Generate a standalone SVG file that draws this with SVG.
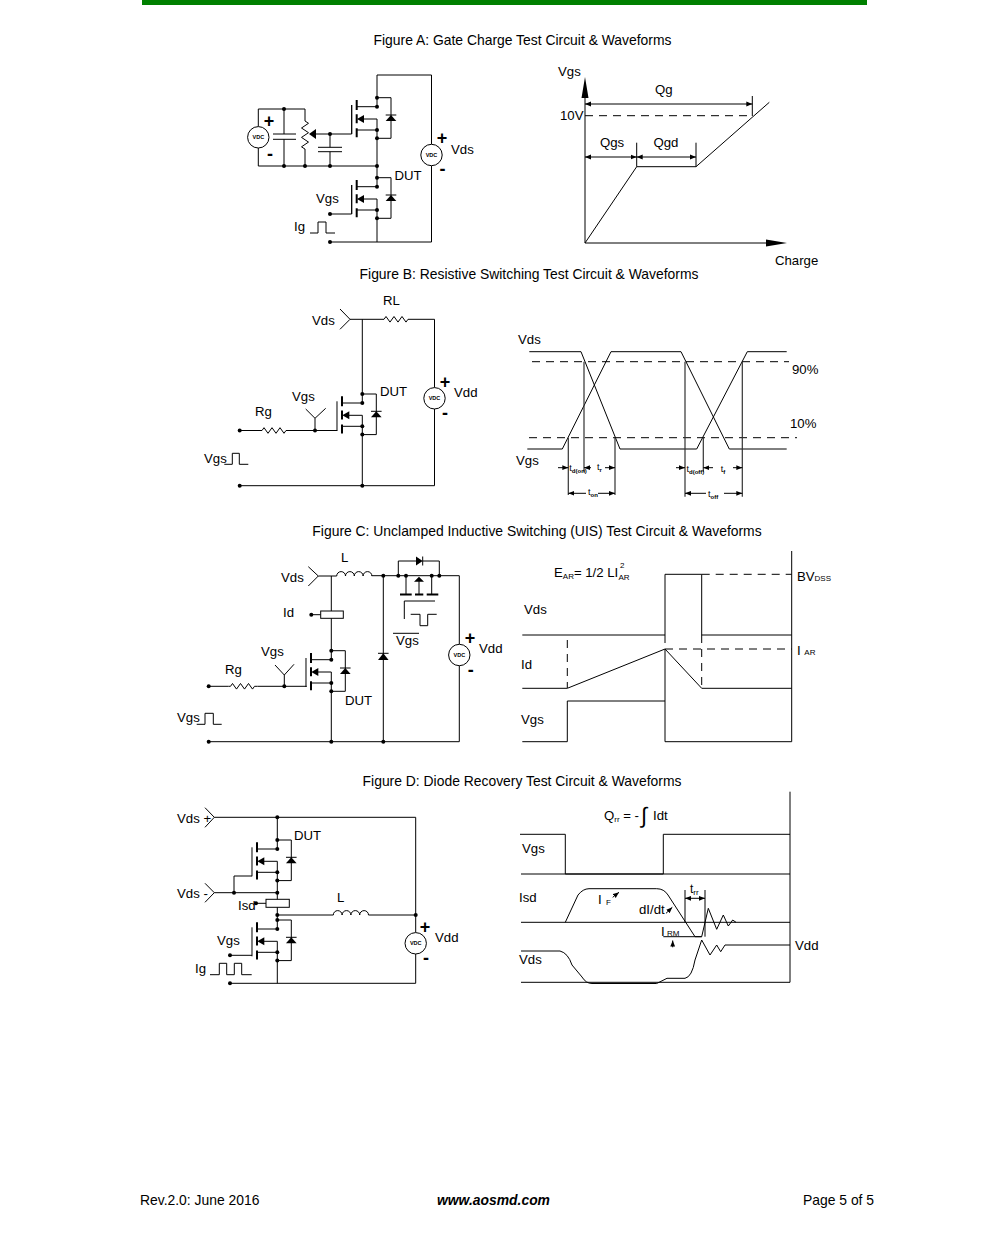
<svg xmlns="http://www.w3.org/2000/svg" xmlns:xlink="http://www.w3.org/1999/xlink" width="991" height="1237" viewBox="0 0 991 1237">
<style>
text{font-family:"Liberation Sans",Arial,sans-serif;font-size:13.2px;fill:#000}
text.b{font-size:13.9px}
.w{fill:none;stroke:#000;stroke-width:1}
.d{fill:none;stroke:#000;stroke-width:1;stroke-dasharray:8 6}
.g{fill:none;stroke:#333;stroke-width:1.2}
.a{fill:none;stroke:#000;stroke-width:1;marker-end:url(#ah)}
.f{fill:#000;stroke:none}
text.v{font-size:5.5px;font-weight:bold;text-anchor:middle}
text.pm{font-size:18px;font-weight:bold;text-anchor:middle}
text.s,tspan.s{font-size:8px}
text.t{font-size:9px}
tspan.x{font-size:6px;font-weight:bold}
</style>
<defs>
<marker id="ah" markerUnits="userSpaceOnUse" markerWidth="7" markerHeight="6" refX="6" refY="3" orient="auto-start-reverse"><path d="M0 .6L6 3L0 5.4z" fill="#000"/></marker>
<circle id="dot" r="2" fill="#000"/>
<path id="res" class="w" d="M0 0h2l2 -2.8 4 5.6 4 -5.6 4 5.6 4 -5.6 4 5.6 2 -2.8h3"/>
<path id="ind" class="w" d="M0 0a4.4 4.4 0 0 1 8.8 0a4.4 4.4 0 0 1 8.8 0a4.4 4.4 0 0 1 8.8 0a4.4 4.4 0 0 1 8.8 0"/>
<g id="vdc"><circle r="10.7" fill="#fff" stroke="#000" stroke-width="1"/><text class="v" y="2">VDC</text></g>
<g id="mos">
<path class="w" d="M-25.3 7.3V36.3" stroke-width="1.2"/>
<path fill="none" stroke="#000" stroke-width="2" d="M-20.3 2.3V12.3M-20.3 16.6V25.6M-20.3 30.6V39.6"/>
<path class="w" d="M-20.3 9H0M-20.3 32.3H0M-14 21.3H0V32.3M0 0V9M0 32.3V40.6M0 0H14V40.6H0"/>
<path class="f" d="M-20 21.3L-13 17.3V25.3z"/>
<path class="f" d="M14 17.3L19.3 23.3H8.7z"/>
<path class="w" stroke-width="1.5" d="M8.7 17.3H19.3"/>
<use href="#dot" xlink:href="#dot" x="0" y="0"/><use href="#dot" xlink:href="#dot" x="0" y="9"/><use href="#dot" xlink:href="#dot" x="0" y="32.3"/><use href="#dot" xlink:href="#dot" x="0" y="40.6"/>
</g>
</defs>
<rect width="991" height="1237" fill="#fff"/>
<rect x="142" y="0" width="725" height="5" fill="#008000"/>

<g id="titles">
<text class="b" x="522.5" y="45" text-anchor="middle">Figure A: Gate Charge Test Circuit &amp; Waveforms</text>
<text class="b" x="529" y="279" text-anchor="middle">Figure B: Resistive Switching Test Circuit &amp; Waveforms</text>
<text class="b" x="537" y="536" text-anchor="middle">Figure C: Unclamped Inductive Switching (UIS) Test Circuit &amp; Waveforms</text>
<text class="b" x="522" y="786" text-anchor="middle">Figure D: Diode Recovery Test Circuit &amp; Waveforms</text>
</g>

<g id="connectors">
<!-- Figure A -->
<path class="w" d="M258.3 126.5V109H305V121M305 149V166M258.3 148V166H377M284 109V134M284 139.3V166M316 134H351.7V105M330 134V147.3M330 151.7V166M377 97.7V75H431.5V144.3M431.5 165.7V242H330M377 138.3V177.7M377 218.3V242M330 214H351.7V185M310 233H318V222H326V233H335"/>
<!-- Figure B -->
<path class="w" d="M340 309L350 319.3L340 329.3M350 319.3H382M411 319.3H434.5V387.6M434.5 409V485.7H239.7M362.3 319.3V394M362.3 435V485.7M239.7 430.5H260M289 430.5H337.5M315 430.5V418.3M305.7 409L315 418.3L325.7 408.3M224.3 464.3H232.3V453.3H239.3V464.3H248.3"/>
<!-- Figure C -->
<path class="w" d="M308.3 566.7L318.3 576L308.3 586M318.3 576H336.7M371.7 575.7H459.3V644.3M459.3 665.7V741.7H208.7M331.3 576V650.7M331.3 691V741.7M383.3 575.7V741.7M398.3 575.7V561H416M422.7 561H439.3V575.7M406 575.7V594M431.7 575.7V594M419 581V594M311.3 614.7H320.7M208.7 686.3H228.5M257.5 686.3H306.7M284.3 686.3V675M275 665L284.3 675L294 664.3M196.7 724.3H205V713.3H213.3V724.3H221.7M404.3 619V601H435M410.7 614.3H420V625.7H427.7V614.3H436.7M393 633.3H419"/>
<path fill="none" stroke="#000" stroke-width="2" d="M400 594.5H411.7M415 594.5H423.3M426.7 594.5H438.3"/>
<path class="f" d="M419 576.7L424 581.7H414zM422.7 561L416 556.5V565.5z"/>
<path class="w" stroke-width="1.5" d="M422.7 556.5V565.5"/>
<path class="f" d="M383.3 653.3L388.6 660H378z"/>
<path class="w" stroke-width="1.5" d="M378 653.3H388.6"/>
<!-- Figure D -->
<path class="w" d="M205 807.7L214.3 817.3L205 827.3M214.3 817.3H415.7V932.6M415.7 954V983.3H230M277.3 817.3V840M205 883.3L214.3 892.7L205 902.3M214.3 892.7H277.3M234 892.7V876H252M277.3 880V920M277.3 960.3V983.3M277.3 915H333.3M368.5 915H415.7M256 903.3H266M230 955.3H252M210 974.7H219.3V963.3H226.7V974.7H234.3V963.3H241.7V974.7H251.7"/>
</g>

<g id="fig-a-circuit">
<g id="vdc-a1"><use href="#vdc" xlink:href="#vdc" x="258.3" y="137.3"/></g>
<g id="vdc-a2"><use href="#vdc" xlink:href="#vdc" x="431.5" y="155"/></g>
<g id="cap-a1"><path class="w" stroke-width="1.2" d="M273 134H296M273 139.3H296"/></g>
<g id="cap-a2"><path class="w" stroke-width="1.2" d="M318 147.3H342M318 151.7H342"/></g>
<g id="pot-a"><path class="w" d="M305 121l3.5 2.3-7 4.7 7 4.7-7 4.7 7 4.7-7 4.7 3.5 2.3"/><path class="f" d="M309 134L316 129V139z"/></g>
<g id="mos-a1"><use href="#mos" xlink:href="#mos" x="377" y="97.7"/></g>
<g id="mos-a2"><use href="#mos" xlink:href="#mos" x="377" y="177.7"/></g>
<g id="dots-a"><use href="#dot" xlink:href="#dot" x="284" y="109"/><use href="#dot" xlink:href="#dot" x="284" y="166"/><use href="#dot" xlink:href="#dot" x="305" y="166"/><use href="#dot" xlink:href="#dot" x="330" y="166"/><use href="#dot" xlink:href="#dot" x="377" y="166"/><use href="#dot" xlink:href="#dot" x="330" y="134"/><use href="#dot" xlink:href="#dot" x="330" y="214"/><use href="#dot" xlink:href="#dot" x="330" y="242"/></g>
<text class="pm" x="269" y="127">+</text><text class="pm" x="270" y="160">-</text>
<text class="pm" x="442" y="144">+</text><text class="pm" x="442.6" y="175">-</text>
<text x="451" y="154">Vds</text><text x="394.5" y="180">DUT</text><text x="316" y="203">Vgs</text><text x="294" y="231">Ig</text>
</g>

<g id="fig-a-wave">
<path class="w" d="M585 95V243H770M585 243L636.7 166.7H696L769.3 102.3M752.3 96V116M636.7 142.7V166.7M696 142.7V166.7"/>
<path class="f" d="M585 77L588.5 98H581.5zM787 243L766 239.5V246.5z"/>
<path class="d" d="M585 115.7H752"/>
<path class="a" style="marker-start:url(#ah)" d="M585 104H752.3"/>
<path class="a" style="marker-start:url(#ah)" d="M585 157H636.7"/>
<path class="a" style="marker-start:url(#ah)" d="M636.7 157H696"/>
<text x="558" y="76">Vgs</text><text x="655" y="94">Qg</text><text x="560" y="120">10V</text><text x="600" y="147">Qgs</text><text x="653.5" y="147">Qgd</text><text x="775" y="265">Charge</text>
</g>

<g id="fig-b-circuit">
<use href="#res" xlink:href="#res" x="382" y="319.3"/>
<use href="#res" xlink:href="#res" x="260" y="430.5"/>
<g id="mos-b"><use href="#mos" xlink:href="#mos" x="362.3" y="394"/></g>
<g id="vdc-b"><use href="#vdc" xlink:href="#vdc" x="434.5" y="398.3"/></g>
<use href="#dot" xlink:href="#dot" x="239.7" y="430.5"/><use href="#dot" xlink:href="#dot" x="315" y="430.5"/><use href="#dot" xlink:href="#dot" x="239.7" y="485.7"/><use href="#dot" xlink:href="#dot" x="362.3" y="485.7"/>
<text class="pm" x="445" y="388">+</text><text class="pm" x="445" y="419">-</text>
<text x="312" y="325">Vds</text><text x="383" y="305">RL</text><text x="380" y="396">DUT</text><text x="292" y="401">Vgs</text><text x="255" y="416">Rg</text><text x="204" y="463">Vgs</text><text x="454" y="397">Vdd</text>
</g>

<g id="fig-b-wave">
<path class="w" d="M529.3 351.7H581L620 449H696.7L747.3 351.7H786.7M527.3 449H562.3L611 351.7H681L729.3 449H786.7"/>
<path class="d" d="M532 361.7H789M529 437.7H797"/>
<path class="g" d="M584 361.7V471.7M568.3 437.7V495M615 437.7V495M685 361.7V496.7M703.3 437.7V471.7M742.3 361.7V496.7"/>
<path class="a" d="M558 467.7H568.3"/><path class="a" d="M591 467.7H584"/><path class="a" d="M605 467.7H615"/>
<path class="a" d="M676 467.7H685"/><path class="a" d="M713 467.7H703.3"/><path class="a" d="M733 467.7H742.3"/>
<path class="a" d="M586 493.3H568.3"/><path class="a" d="M598 493.3H615"/>
<path class="a" d="M706 493.3H685"/><path class="a" d="M724 493.3H742.3"/>
<text class="t" x="569.3" y="471">t<tspan class="x" dy="2">d(on)</tspan></text>
<text class="t" x="597" y="470">t<tspan class="x" dy="2">r</tspan></text>
<text class="t" x="686.5" y="472">t<tspan class="x" dy="2">d(off)</tspan></text>
<text class="t" x="720.7" y="472">t<tspan class="x" dy="2">f</tspan></text>
<text class="t" x="588" y="495">t<tspan class="x" dy="2">on</tspan></text>
<text class="t" x="708" y="497">t<tspan class="x" dy="2">off</tspan></text>
<text x="518" y="344">Vds</text><text x="516" y="465">Vgs</text><text x="792" y="374">90%</text><text x="790" y="428">10%</text>
</g>

<g id="fig-c-circuit">
<use href="#ind" xlink:href="#ind" x="336.7" y="576"/>
<use href="#res" xlink:href="#res" x="228.5" y="686.3"/>
<g id="sense-c"><rect class="w" x="320.7" y="611" width="22.6" height="7.3" style="fill:#fff"/></g>
<g id="mos-c"><use href="#mos" xlink:href="#mos" x="331.3" y="650.7"/></g>
<g id="vdc-c"><use href="#vdc" xlink:href="#vdc" x="459.3" y="655"/></g>
<use href="#dot" xlink:href="#dot" x="383.3" y="575.7"/><use href="#dot" xlink:href="#dot" x="398.3" y="575.7"/><use href="#dot" xlink:href="#dot" x="406" y="575.7"/><use href="#dot" xlink:href="#dot" x="431.7" y="575.7"/><use href="#dot" xlink:href="#dot" x="439.3" y="575.7"/><use href="#dot" xlink:href="#dot" x="311.3" y="614.7"/><use href="#dot" xlink:href="#dot" x="208.7" y="686.3"/><use href="#dot" xlink:href="#dot" x="284.3" y="686.3"/><use href="#dot" xlink:href="#dot" x="208.7" y="741.7"/><use href="#dot" xlink:href="#dot" x="331.3" y="741.7"/><use href="#dot" xlink:href="#dot" x="383.3" y="741.7"/>
<text class="pm" x="470" y="644">+</text><text class="pm" x="470.7" y="676">-</text>
<text x="281" y="582">Vds</text><text x="341" y="562">L</text><text x="283" y="617">Id</text><text x="261" y="656">Vgs</text><text x="225" y="674">Rg</text><text x="345" y="705">DUT</text><text x="177" y="722">Vgs</text><text x="396" y="645">Vgs</text><text x="479" y="653">Vdd</text>
</g>

<g id="fig-c-wave">
<path class="w" d="M791.7 551V741.7H665V649M522.3 635H665V574.3H701.7V635H791.7M522.3 688.3H567.3L665 649L701.7 688.3H791.7M522.3 741.7H567.3V701H665"/>
<path class="d" d="M701.7 574.3H791.7M665 649H791.7M567.3 640V688M665 635V649M701.7 635V688"/>
<text x="554" y="577">E<tspan class="s" dy="2">AR</tspan><tspan dy="-2">= 1/2 LI</tspan></text>
<text class="s" x="620" y="568">2</text><text class="s" x="618.5" y="580">AR</text>
<text x="524" y="614">Vds</text><text x="521" y="669">Id</text><text x="521" y="724">Vgs</text>
<text x="797" y="581">BV<tspan class="s">DSS</tspan></text>
<text x="797" y="655">I <tspan class="s">AR</tspan></text>
</g>

<g id="fig-d-circuit">
<use href="#ind" xlink:href="#ind" x="333.3" y="915"/>
<g id="sense-d"><rect class="w" x="266" y="899.3" width="23.3" height="8" style="fill:#fff"/></g>
<g id="mos-d1"><use href="#mos" xlink:href="#mos" x="277.3" y="840"/></g>
<g id="mos-d2"><use href="#mos" xlink:href="#mos" x="277.3" y="920"/></g>
<g id="vdc-d"><use href="#vdc" xlink:href="#vdc" x="415.7" y="943.3"/></g>
<use href="#dot" xlink:href="#dot" x="277.3" y="817.3"/><use href="#dot" xlink:href="#dot" x="234" y="892.7"/><use href="#dot" xlink:href="#dot" x="277.3" y="892.7"/><use href="#dot" xlink:href="#dot" x="256" y="903.3"/><use href="#dot" xlink:href="#dot" x="277.3" y="915"/><use href="#dot" xlink:href="#dot" x="415.7" y="915"/><use href="#dot" xlink:href="#dot" x="230" y="955.3"/><use href="#dot" xlink:href="#dot" x="230" y="983.3"/>
<text class="pm" x="425" y="933">+</text><text class="pm" x="426" y="964">-</text>
<text x="177" y="823">Vds +</text><text x="177" y="898">Vds -</text><text x="294" y="840">DUT</text><text x="238" y="910">Isd</text><text x="337" y="902">L</text><text x="435" y="942">Vdd</text><text x="217" y="945">Vgs</text><text x="195" y="973">Ig</text>
</g>

<g id="fig-d-wave">
<path class="w" d="M790 791.7V982.3H521M520 834.3H565.3V874H663.3V834.3H790M521 874H790M521 922.3H790"/>
<path class="w" d="M565.3 922.3L578 895Q583 888.7 589 888.7H656.7Q664 888.7 668 895L695 936.7H701.7L708.3 908.3L716.7 929.3L723.3 915L728.3 926L732.7 920L736 922.3"/>
<path class="w" d="M663.3 936.7H701.7M685 890V922.3M705 890V936.7"/>
<path class="w" d="M521 951H560Q568 953 572 965L582 977Q586 983.5 592 983.5H656.7L667 978.3H685Q692 977 695 960L701.7 940L710 955L716.7 945L720.7 951.7L725 945H790"/>
<path class="a" style="marker-start:url(#ah)" d="M685 898.3H705"/>
<path class="a" d="M672.7 947.3V940.5"/>
<path class="a" d="M612.7 897.3L619 892.3"/><path class="a" d="M666 913.3L672.3 907.3"/>
<text x="604" y="820">Q<tspan class="s" dy="2">rr</tspan><tspan dy="-2"> = -</tspan></text>
<text x="641" y="823" style="font-size:22px">∫</text><text x="653" y="820">Idt</text>
<text x="522" y="853">Vgs</text><text x="519" y="902">Isd</text><text x="519" y="964">Vds</text><text x="795" y="950">Vdd</text>
<text x="598" y="904">I<tspan class="s" dx="2" dy="1"> F</tspan></text>
<text x="639" y="914">dI/dt</text>
<text x="690" y="893" style="font-size:12px">t<tspan class="s" dy="2">rr</tspan></text>
<text x="661" y="936">I<tspan class="s"> RM</tspan></text>
</g>

<g id="footer">
<text class="b" x="140" y="1205">Rev.2.0: June 2016</text>
<text class="b" x="493.5" y="1205" text-anchor="middle" font-weight="bold" font-style="italic">www.aosmd.com</text>
<text class="b" x="803" y="1205">Page 5 of 5</text>
</g>
</svg>
